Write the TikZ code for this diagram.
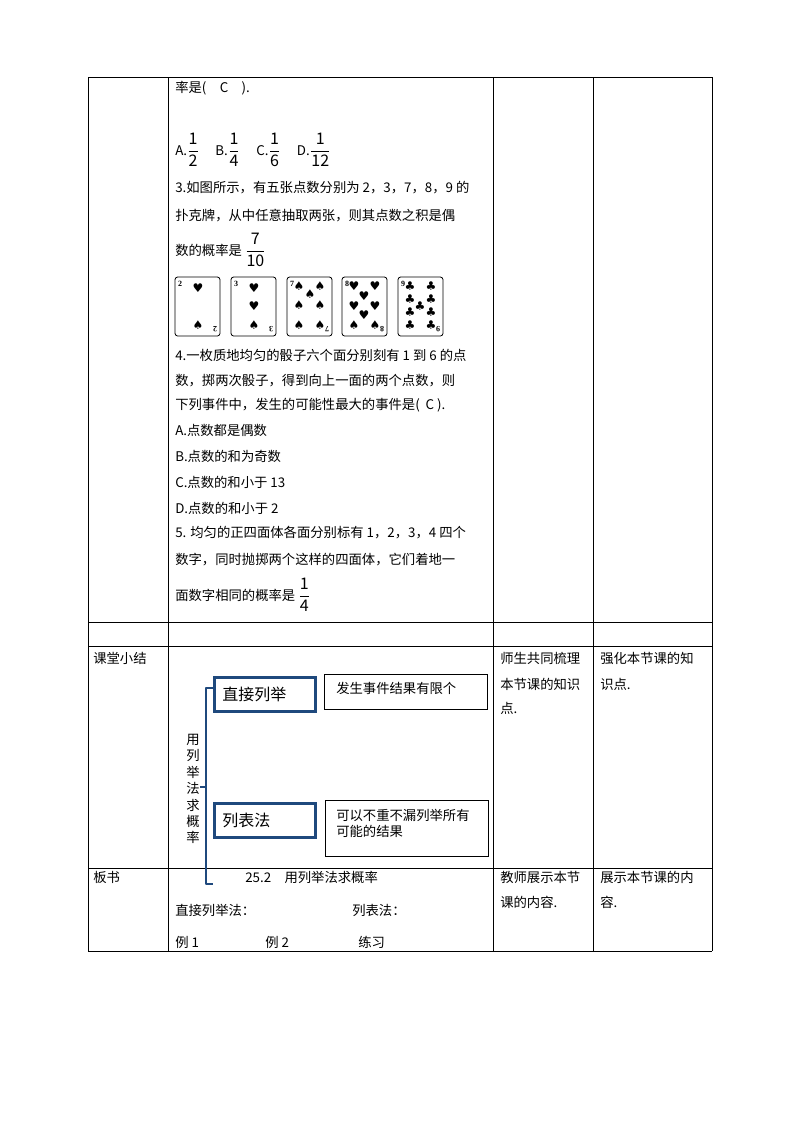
\documentclass[tikz,border=0pt]{standalone}
\usepackage{amsmath}
\usepackage{fontspec}
\setmainfont{Liberation Serif}
\newfontfamily\cjk{Noto Sans CJK SC}
\newfontfamily\sym{DejaVu Sans}
\newcommand{\fr}[2]{{\fontsize{12}{14}\selectfont$\dfrac{\text{#1}}{\text{#2}}$}}
\begin{document}
\begin{tikzpicture}[x=0.75pt,y=-0.75pt,
  grid/.style={line width=0.6pt},
  txt/.style={anchor=west,inner sep=0pt,font=\cjk\fontsize{10}{12}\selectfont},
  blu/.style={draw={rgb,255:red,31;green,73;blue,125},line width=2pt},
  card/.style={draw,rounded corners=2pt,line width=0.6pt},
  pip/.style={inner sep=0pt,font=\sym\fontsize{9}{9}\selectfont}]
\useasboundingbox (0,0) rectangle (800,1132);
% table
\foreach \x in {88,168,493,593,712} \draw[grid] (\x,77) -- (\x,951);
\foreach \y in {77,622,646,868,951} \draw[grid] (88,\y) -- (712,\y);
% text block
\node[txt] (t1) at (175,88) {率是(\quad C\quad ).};
\node[txt] (oa) at (175,150) {A.\fr{1}{2}\quad\ B.\fr{1}{4}\quad\ C.\fr{1}{6}\quad\ D.\fr{1}{12}};
\node[txt] (t3) at (175,188) {3.如图所示，有五张点数分别为 2，3，7，8，9 的};
\node[txt] (t4) at (175,216) {扑克牌，从中任意抽取两张，则其点数之积是偶};
\node[txt] (t5) at (175,250) {数的概率是 \fr{7}{10}};
% cards
\foreach \x/\n in {175/2,231/3,287/7,342/8,398/9} {
  \draw[card] (\x,277) rectangle ++(45,59);
  \node[inner sep=0pt,font=\fontsize{6}{6}\selectfont\bfseries] at (\x+5,284) {\n};
  \node[inner sep=0pt,font=\fontsize{6}{6}\selectfont\bfseries,rotate=180] at (\x+40,329) {\n};
}
\node[pip] at (198,288) {♥}; \node[pip] at (198,325) {♠};
\node[pip] at (254,288) {♥}; \node[pip] at (254,306) {♥}; \node[pip] at (254,325) {♠};
\foreach \p in {(299,286),(320,286),(310,294),(299,305),(320,305),(299,325),(320,325)} \node[pip] at \p {♠};
\foreach \p in {(354,286),(375,286),(364,296),(354,306),(375,306),(364,315)} \node[pip] at \p {♥};
\node[pip] at (354,325) {♠}; \node[pip] at (375,325) {♠};
\foreach \p in {(410,286),(431,286),(410,299),(431,299),(420,306),(410,312),(431,312),(410,325),(431,325)} \node[pip] at \p {♣};
\node[txt] (t6) at (175,355) {4.一枚质地均匀的骰子六个面分别刻有 1 到 6 的点};
\node[txt] (t7) at (175,381) {数，掷两次骰子，得到向上一面的两个点数，则};
\node[txt] (t8) at (175,405) {下列事件中，发生的可能性最大的事件是(\ \ C\ ).};
\node[txt] (t9) at (175,430) {A.点数都是偶数};
\node[txt] (t10) at (175,456) {B.点数的和为奇数};
\node[txt] (t11) at (175,482) {C.点数的和小于 13};
\node[txt] (t12) at (175,508) {D.点数的和小于 2};
\node[txt] (t13) at (175,533) {5. 均匀的正四面体各面分别标有 1，2，3，4 四个};
\node[txt] (t14) at (175,560) {数字，同时抛掷两个这样的四面体，它们着地一};
\node[txt] (t15) at (175,595) {面数字相同的概率是 \fr{1}{4}};
% row labels
\node[txt] (r1) at (93,658) {课堂小结};
\node[txt] (r2) at (500,658) {师生共同梳理};
\node[txt] (r3) at (500,684) {本节课的知识};
\node[txt] (r4) at (500,708) {点.};
\node[txt] (r5) at (600,658) {强化本节课的知};
\node[txt] (r6) at (600,684) {识点.};
% diagram
\node[blu,inner sep=0pt,font=\cjk\fontsize{12}{14}\selectfont,anchor=north west,minimum height=25.5pt,text width=76pt,align=left] (b1) at (213,676) {\hspace{6pt}直接列举};
\node[draw,line width=0.8pt,anchor=north west,minimum width=122pt,minimum height=26pt,inner sep=0pt] (b2) at (324,674) {};
\node[txt] (b2t) at (336,688) {发生事件结果有限个};
\node[blu,inner sep=0pt,font=\cjk\fontsize{12}{14}\selectfont,anchor=north west,minimum height=25.5pt,text width=76pt,align=left] (b3) at (213,802) {\hspace{6pt}列表法};
\node[draw,line width=0.8pt,anchor=north west,minimum width=122pt,minimum height=42pt,inner sep=0pt] (b4) at (325,800) {};
\node[txt] (b4a) at (336,815) {可以不重不漏列举所有};
\node[txt] (b4b) at (336,831) {可能的结果};
\coordinate (bt) at (206,688);
\coordinate (bb) at (206,884);
\draw[blu,line width=2pt,line join=round] (b1.west |- bt) -- (bt) -- (bb) -- ++(7,0);
\draw[blu,line width=2pt] (206,787) -- (200,787);
\node[inner sep=0pt,font=\cjk\fontsize{10}{12.3}\selectfont,text width=10pt,align=center] (v) at (193,789) {用\\列\\举\\法\\求\\概\\率};
% board
\node[txt] (s1) at (93,877) {板书};
\node[txt] (s2) at (245,877) {25.2\quad 用列举法求概率};
\node[txt] (s3) at (175,910) {直接列举法：};
\node[txt] (s4) at (352,910) {列表法：};
\node[txt] (s5) at (175,942) {例 1};
\node[txt] (s6) at (265,942) {例 2};
\node[txt] (s7) at (358,942) {练习};
\node[txt] (s8) at (500,877) {教师展示本节};
\node[txt] (s9) at (500,902) {课的内容.};
\node[txt] (s10) at (600,877) {展示本节课的内};
\node[txt] (s11) at (600,902) {容.};
\end{tikzpicture}
\end{document}
